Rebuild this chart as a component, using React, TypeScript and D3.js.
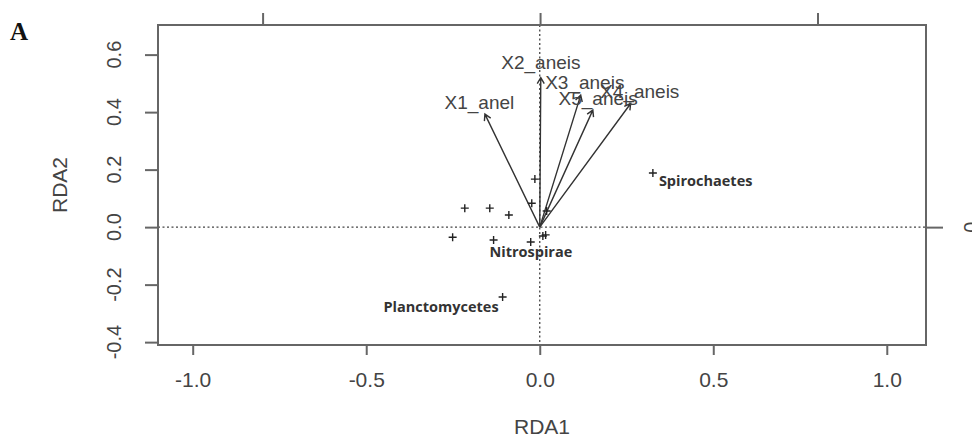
import * as d3 from "d3";
import { useEffect, useRef } from "react";

// axis ticks
const xTicks = [-1, -0.5, 0, 0.5, 1];
const xTickLabels = ["-1.0", "-0.5", "0.0", "0.5", "1.0"];
const yTicks = [-0.4, -0.2, 0, 0.2, 0.4, 0.6];
const yTickLabels = ["-0.4", "-0.2", "0.0", "0.2", "0.4", "0.6"];
const topTicks = [-1, 0, 1];
const rightTicks = [0];
const rightTickLabels = ["0"];

// environmental vectors (biplot arrows)
const envNames = ["X1_anel", "X2_aneis", "X3_aneis", "X4_aneis", "X5_aneis"];
const envRDA1 = [-0.158, 0.003, 0.118, 0.262, 0.153];
const envRDA2 = [0.393, 0.52, 0.459, 0.43, 0.407];

// species scores
const spNames = ["", "", "", "", "", "", "", "", "Nitrospirae", "", "", "Spirochaetes", "Planctomycetes"];
const spRDA1 = [-0.216, -0.144, -0.089, -0.014, -0.023, -0.251, -0.133, -0.026, 0.009, 0.017, 0.02, 0.326, -0.107];
const spRDA2 = [0.066, 0.066, 0.042, 0.167, 0.083, -0.035, -0.045, -0.052, -0.031, -0.027, 0.056, 0.188, -0.243];
const spLabelSide = ["", "", "", "", "", "", "", "", "below", "", "", "right", "left"];

const W = 972;
const H = 439;

export default function App() {
  const svgRef = useRef<SVGSVGElement | null>(null);

  useEffect(() => {
    if (!svgRef.current) return;
    const svg = d3.select(svgRef.current);
    svg.selectAll("*").remove();

    const box = { left: 158, right: 926, top: 25, bottom: 345 };
    const axisColor = "#666";
    const textColor = "#444";
    const axisFont = "'Liberation Sans', Arial, sans-serif";

    const x = d3.scaleLinear().domain([-1.1, 1.113]).range([box.left, box.right]);
    const y = d3.scaleLinear().domain([-0.41, 0.703]).range([box.bottom, box.top]);
    const xTop = d3.scaleLinear().domain([-1.377, 1.391]).range([box.left, box.right]);

    svg.append("rect").attr("width", W).attr("height", H).attr("fill", "#fff");

    // panel letter
    svg
      .append("text")
      .attr("x", 10)
      .attr("y", 40)
      .attr("font-family", "'Liberation Serif', 'Times New Roman', serif")
      .attr("font-weight", "bold")
      .attr("font-size", 25)
      .attr("fill", "#111")
      .text("A");

    // dotted zero lines
    const g = svg.append("g");
    g.append("line")
      .attr("x1", box.left)
      .attr("x2", box.right)
      .attr("y1", y(0))
      .attr("y2", y(0))
      .attr("stroke", "#444")
      .attr("stroke-width", 1.3)
      .attr("stroke-dasharray", "2,2.5");
    g.append("line")
      .attr("x1", x(0))
      .attr("x2", x(0))
      .attr("y1", box.top)
      .attr("y2", box.bottom)
      .attr("stroke", "#444")
      .attr("stroke-width", 1.3)
      .attr("stroke-dasharray", "2,2.5");

    // arrows
    const headLen = 7;
    envNames.forEach((name, i) => {
      const x0 = x(0);
      const y0 = y(0);
      const x1 = x(envRDA1[i]);
      const y1 = y(envRDA2[i]);
      const ang = Math.atan2(y1 - y0, x1 - x0);
      const p = d3.path();
      p.moveTo(x0, y0);
      p.lineTo(x1, y1);
      p.moveTo(x1 - headLen * Math.cos(ang - Math.PI / 6), y1 - headLen * Math.sin(ang - Math.PI / 6));
      p.lineTo(x1, y1);
      p.lineTo(x1 - headLen * Math.cos(ang + Math.PI / 6), y1 - headLen * Math.sin(ang + Math.PI / 6));
      g.append("path")
        .attr("d", p.toString())
        .attr("fill", "none")
        .attr("stroke", "#333")
        .attr("stroke-width", 1.4);
      g.append("text")
        .attr("x", x(envRDA1[i] * 1.1))
        .attr("y", y(envRDA2[i] * 1.1))
        .attr("dy", "0.35em")
        .attr("text-anchor", "middle")
        .attr("font-family", axisFont)
        .attr("font-size", 19)
        .attr("fill", textColor)
        .text(name);
    });

    // species points
    const pts = g
      .selectAll(".sp")
      .data(spNames.map((n, i) => ({ n, a: spRDA1[i], b: spRDA2[i], side: spLabelSide[i] })))
      .enter()
      .append("g")
      .attr("transform", (d) => `translate(${x(d.a)},${y(d.b)})`);
    pts
      .append("path")
      .attr("d", "M-4,0H4M0,-4V4")
      .attr("stroke", "#222")
      .attr("stroke-width", 1.4);
    pts
      .filter((d) => d.n !== "")
      .append("text")
      .attr("x", (d) => (d.side === "right" ? 6 : d.side === "left" ? -4 : -12))
      .attr("y", (d) => (d.side === "below" ? 21 : d.side === "left" ? 15 : 13))
      .attr("text-anchor", (d) => (d.side === "left" ? "end" : d.side === "right" ? "start" : "middle"))
      .attr("font-family", "'Open Sans', sans-serif")
      .attr("font-weight", "bold")
      .attr("font-size", 14.5)
      .attr("fill", "#333")
      .text((d) => d.n);

    // box
    svg
      .append("rect")
      .attr("x", box.left)
      .attr("y", box.top)
      .attr("width", box.right - box.left)
      .attr("height", box.bottom - box.top)
      .attr("fill", "none")
      .attr("stroke", axisColor)
      .attr("stroke-width", 2);

    // bottom axis
    const bottom = svg.append("g").attr("transform", `translate(0,${box.bottom})`);
    bottom.call(
      d3
        .axisBottom(x)
        .tickValues(xTicks)
        .tickSizeOuter(0)
        .tickSize(10)
        .tickPadding(17)
        .tickFormat((_, i) => xTickLabels[i])
    );
    bottom.select(".domain").remove();
    bottom.selectAll("line").attr("stroke", axisColor).attr("stroke-width", 2);
    bottom
      .selectAll("text")
      .attr("font-family", axisFont)
      .attr("font-size", 21)
      .attr("fill", textColor);

    // left axis (labels parallel to axis)
    const left = svg.append("g").attr("transform", `translate(${box.left},0)`);
    left.call(d3.axisLeft(y).tickValues(yTicks).tickSize(13).tickSizeOuter(0).tickFormat(() => ""));
    left.select(".domain").remove();
    left.selectAll("line").attr("stroke", axisColor).attr("stroke-width", 2);
    left
      .selectAll(".ytl")
      .data(yTicks)
      .enter()
      .append("text")
      .attr("transform", (d) => `translate(-37,${y(d)}) rotate(-90)`)
      .attr("text-anchor", "middle")
      .attr("font-family", axisFont)
      .attr("font-size", 20)
      .attr("fill", textColor)
      .text((_, i) => yTickLabels[i]);

    // top axis (no labels visible)
    const top = svg.append("g").attr("transform", `translate(0,${box.top})`);
    top.call(d3.axisTop(xTop).tickValues(topTicks).tickSize(12).tickSizeOuter(0).tickFormat(() => ""));
    top.select(".domain").remove();
    top.selectAll("line").attr("stroke", axisColor).attr("stroke-width", 2);

    // right axis (label falls partly outside the frame)
    const right = svg.append("g").attr("transform", `translate(${box.right},0)`);
    right.call(d3.axisRight(y).tickValues(rightTicks).tickSize(17).tickSizeOuter(0).tickFormat(() => ""));
    right.select(".domain").remove();
    right.selectAll("line").attr("stroke", axisColor).attr("stroke-width", 2);
    right
      .selectAll(".rtl")
      .data(rightTicks)
      .enter()
      .append("text")
      .attr("transform", (d) => `translate(52,${y(d)}) rotate(-90)`)
      .attr("text-anchor", "middle")
      .attr("font-family", axisFont)
      .attr("font-size", 20)
      .attr("fill", textColor)
      .text((_, i) => rightTickLabels[i]);

    // axis titles
    svg
      .append("text")
      .attr("x", (box.left + box.right) / 2)
      .attr("y", 434)
      .attr("text-anchor", "middle")
      .attr("font-family", axisFont)
      .attr("font-size", 21)
      .attr("fill", textColor)
      .text("RDA1");
    svg
      .append("text")
      .attr("transform", `translate(67,${(box.top + box.bottom) / 2}) rotate(-90)`)
      .attr("text-anchor", "middle")
      .attr("font-family", axisFont)
      .attr("font-size", 21)
      .attr("fill", textColor)
      .text("RDA2");
  }, []);

  return (
    <svg
      ref={svgRef}
      width={W}
      height={H}
      style={{ position: "absolute", left: 0, top: 0, display: "block" }}
    />
  );
}
